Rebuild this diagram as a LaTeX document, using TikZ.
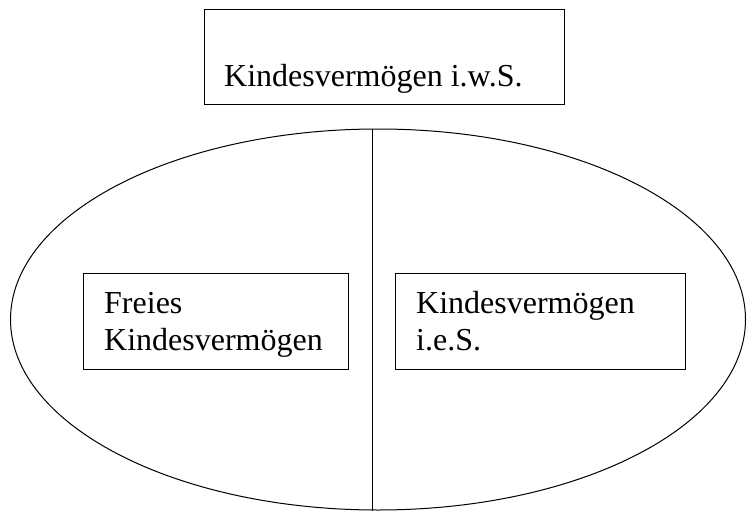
\documentclass[tikz,border=0pt]{standalone}
\usepackage{fontspec}
\setmainfont{Liberation Serif}
\usetikzlibrary{shapes.geometric}
\tikzset{
  frame/.style={draw, line width=1.2pt, inner sep=0pt, anchor=north west},
  lbl/.style={inner sep=0pt, font=\fontsize{32}{37}\selectfont, align=left},
  oval/.style={draw, ellipse, line width=1pt, inner sep=0pt},
}
\begin{document}
\begin{tikzpicture}[x=1pt,y=-1pt]
\useasboundingbox (0,0) rectangle (747,511);
% ellipse
\node[oval, minimum width=735pt, minimum height=381pt] (ov) at (378,319.5) {};
% divider
\coordinate (divbot) at (372,512);
\draw[line width=1pt] (divbot |- ov.north) -- (divbot);
% top box
\node[frame, minimum width=360pt, minimum height=95pt] (topbox) at (204,9) {};
\node[lbl, anchor=base west] (toptxt) at (224,86) {Kindesvermögen i.w.S.};
% left box
\node[frame, minimum width=265pt, minimum height=96pt] (leftbox) at (83,273) {};
\node[lbl, anchor=north west] (lefttxt) at (104,291.8) {Freies\\Kindesvermögen};
% right box
\node[frame, minimum width=290pt, minimum height=96pt] (rightbox) at (395,273) {};
\node[lbl, anchor=north west] (righttxt) at (416,291.1) {Kindesvermögen\\i.e.S.};
\end{tikzpicture}
\end{document}
